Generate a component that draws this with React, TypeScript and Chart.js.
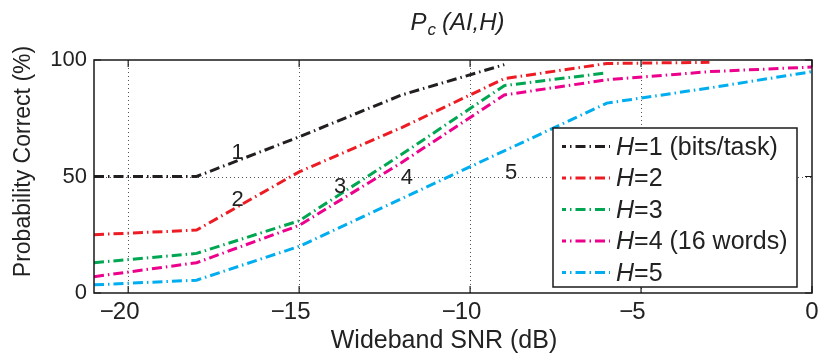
import React, { useEffect, useRef } from "react";
import { Chart, registerables } from "chart.js";

Chart.register(...registerables);

// ---- data ----
const snr = [-21, -18, -15, -12, -9, -6, -3, 0];
const h1 = [50, 50, 67, 85, 98, null, null, null];
const h2 = [25, 27, 52, 71, 92, 98.5, 99, null];
const h3 = [13, 17, 31, 59.5, 89, 94.5, null, null];
const h4 = [7, 13, 29, 56, 85, 91.5, 95, 97];
const h5 = [3.5, 5.5, 20, 40.5, 61, 81.5, 88, 95];
const seriesNames = ["H=1 (bits/task)", "H=2", "H=3", "H=4 (16 words)", "H=5"];
const seriesColors = ["#231f20", "#ed1c24", "#00a651", "#ec008c", "#00aeef"];
const xTicks = [-20, -15, -10, -5, 0];
const yTicks = [0, 50, 100];
const curveLabels = ["1", "2", "3", "4", "5"];
const curveLabelX = [-16.8, -16.8, -13.8, -11.85, -8.8];
const curveLabelY = [60, 40, 45.6, 49.5, 51.6];

const FONT = "'Liberation Sans', Arial, Helvetica, sans-serif";
const TXT = "#222";
const DASH = [10, 4, 1.5, 4];

const decorPlugin = {
  id: "decor",
  beforeDatasetsDraw(chart: any) {
    const { ctx, chartArea: a, scales } = chart;
    const xs = scales.x, ys = scales.y;
    ctx.save();
    ctx.strokeStyle = "#555";
    ctx.lineWidth = 1;
    ctx.setLineDash([1, 3]);
    xTicks.forEach((v) => {
      if (v === 0) return;
      const px = Math.round(xs.getPixelForValue(v)) + 0.5;
      ctx.beginPath();
      ctx.moveTo(px, a.top);
      ctx.lineTo(px, a.bottom);
      ctx.stroke();
    });
    yTicks.forEach((v) => {
      if (v === 0 || v === 100) return;
      const py = Math.round(ys.getPixelForValue(v)) + 0.5;
      ctx.beginPath();
      ctx.moveTo(a.left, py);
      ctx.lineTo(a.right, py);
      ctx.stroke();
    });
    ctx.restore();
  },
  afterDatasetsDraw(chart: any) {
    const { ctx, chartArea: a, scales } = chart;
    const xs = scales.x, ys = scales.y;
    ctx.save();
    // curve number labels
    ctx.fillStyle = TXT;
    ctx.font = `22px ${FONT}`;
    ctx.textAlign = "center";
    ctx.textBaseline = "middle";
    curveLabels.forEach((t, i) => {
      ctx.fillText(t, xs.getPixelForValue(curveLabelX[i]), ys.getPixelForValue(curveLabelY[i]));
    });
    // box
    ctx.setLineDash([]);
    ctx.strokeStyle = "#1a1a1a";
    ctx.lineWidth = 1.5;
    ctx.strokeRect(a.left, a.top, a.right - a.left, a.bottom - a.top);
    // inner ticks
    ctx.lineWidth = 1.2;
    const tl = 7;
    xTicks.forEach((v) => {
      const px = xs.getPixelForValue(v);
      ctx.beginPath();
      ctx.moveTo(px, a.bottom);
      ctx.lineTo(px, a.bottom - tl);
      ctx.moveTo(px, a.top);
      ctx.lineTo(px, a.top + tl);
      ctx.stroke();
    });
    yTicks.forEach((v) => {
      const py = ys.getPixelForValue(v);
      ctx.beginPath();
      ctx.moveTo(a.left, py);
      ctx.lineTo(a.left + tl, py);
      ctx.moveTo(a.right, py);
      ctx.lineTo(a.right - tl, py);
      ctx.stroke();
    });
    // legend
    const lx = 553, ly = 128, lw = 244, lh = 159;
    ctx.fillStyle = "#fff";
    ctx.fillRect(lx, ly, lw, lh);
    ctx.strokeStyle = "#1a1a1a";
    ctx.lineWidth = 1.5;
    ctx.strokeRect(lx, ly, lw, lh);
    seriesNames.forEach((name, i) => {
      const base = 154.5 + i * 31.5;
      const cy = base - 8;
      ctx.strokeStyle = seriesColors[i];
      ctx.lineWidth = 3;
      ctx.setLineDash(DASH);
      ctx.lineDashOffset = 6;
      ctx.beginPath();
      ctx.moveTo(562, cy);
      ctx.lineTo(610, cy);
      ctx.stroke();
      ctx.setLineDash([]);
      ctx.lineDashOffset = 0;
      ctx.fillStyle = TXT;
      ctx.textAlign = "left";
      ctx.textBaseline = "alphabetic";
      ctx.font = `italic 25px ${FONT}`;
      const first = name.charAt(0);
      ctx.fillText(first, 616, base);
      const w = ctx.measureText(first).width;
      ctx.font = `25px ${FONT}`;
      ctx.fillText(name.slice(1), 616 + w, base);
    });
    ctx.restore();
  },
  afterDraw(chart: any) {
    const { ctx, scales } = chart;
    const xs = scales.x;
    ctx.save();
    ctx.fillStyle = TXT;
    // x tick labels: digits centred on tick, minus hanging to the left
    ctx.font = `24px ${FONT}`;
    ctx.textBaseline = "alphabetic";
    xTicks.forEach((v) => {
      const px = xs.getPixelForValue(v);
      const digits = String(Math.abs(v));
      const dw = ctx.measureText(digits).width;
      ctx.textAlign = "center";
      ctx.fillText(digits, px - (v < 0 ? 2 : 0), 319);
      if (v < 0) {
        ctx.textAlign = "right";
        ctx.fillText("\u2212", px - 2 - dw / 2 + 1, 319);
      }
    });
    // x title
    ctx.font = `25px ${FONT}`;
    ctx.textAlign = "center";
    ctx.fillText("Wideband SNR (dB)", 444, 348);
    // y title
    ctx.save();
    ctx.translate(30, 161.5);
    ctx.rotate(-Math.PI / 2);
    ctx.font = `23px ${FONT}`;
    ctx.textAlign = "center";
    ctx.fillText("Probability Correct (%)", 0, 0);
    ctx.restore();
    // chart title P_c (AI,H)
    ctx.textAlign = "left";
    ctx.font = `italic 24px ${FONT}`;
    const wP = ctx.measureText("P").width;
    ctx.font = `italic 17px ${FONT}`;
    const wc = ctx.measureText("c").width;
    ctx.font = `italic 24px ${FONT}`;
    const rest = "(AI,H)";
    const wr = ctx.measureText(rest).width;
    const total = wP + 1 + wc + 6 + wr;
    const x0 = 457.5 - total / 2;
    ctx.fillText("P", x0, 30);
    ctx.font = `italic 17px ${FONT}`;
    ctx.fillText("c", x0 + wP + 1, 35);
    ctx.font = `italic 24px ${FONT}`;
    ctx.fillText(rest, x0 + wP + 1 + wc + 6, 30);
    ctx.restore();
  },
};

export default function App() {
  const ref = useRef<HTMLCanvasElement | null>(null);
  useEffect(() => {
    if (!ref.current) return;
    const all = [h1, h2, h3, h4, h5];
    const datasets = all.map((arr, i) => ({
      label: seriesNames[i],
      data: snr
        .map((x, j) => ({ x, y: arr[j] }))
        .filter((p) => p.y !== null),
      borderColor: seriesColors[i],
      backgroundColor: seriesColors[i],
      borderWidth: 3,
      borderDash: DASH,
      borderCapStyle: "butt",
      pointRadius: 0,
      tension: 0,
      fill: false,
    }));
    const chart = new Chart(ref.current, {
      type: "line",
      data: { datasets } as any,
      plugins: [decorPlugin],
      options: {
        animation: false,
        responsive: false,
        devicePixelRatio: 1,
        layout: { padding: { left: 0, right: 10, top: 60, bottom: 0 } },
        plugins: { legend: { display: false }, tooltip: { enabled: false }, title: { display: false } },
        scales: {
          x: {
            type: "linear",
            min: -21,
            max: 0,
            grid: { display: false },
            border: { display: false },
            ticks: { display: false },
            afterBuildTicks: (s: any) => {
              s.ticks = xTicks.map((v) => ({ value: v }));
            },
            afterFit: (s: any) => {
              s.height = 61;
            },
          },
          y: {
            type: "linear",
            min: 0,
            max: 100,
            grid: { display: false, drawTicks: false },
            border: { display: false },
            ticks: {
              color: TXT,
              padding: 7,
              font: { family: FONT, size: 22 },
            },
            afterBuildTicks: (s: any) => {
              s.ticks = yTicks.map((v) => ({ value: v }));
            },
            afterFit: (s: any) => {
              s.width = 94;
            },
          },
        },
      } as any,
    });
    return () => chart.destroy();
  }, []);
  return (
    <div style={{ position: "fixed", left: 0, top: 0, width: 822, height: 354, background: "#fff" }}>
      <canvas ref={ref} width={822} height={354} style={{ width: 822, height: 354, display: "block" }} />
    </div>
  );
}
